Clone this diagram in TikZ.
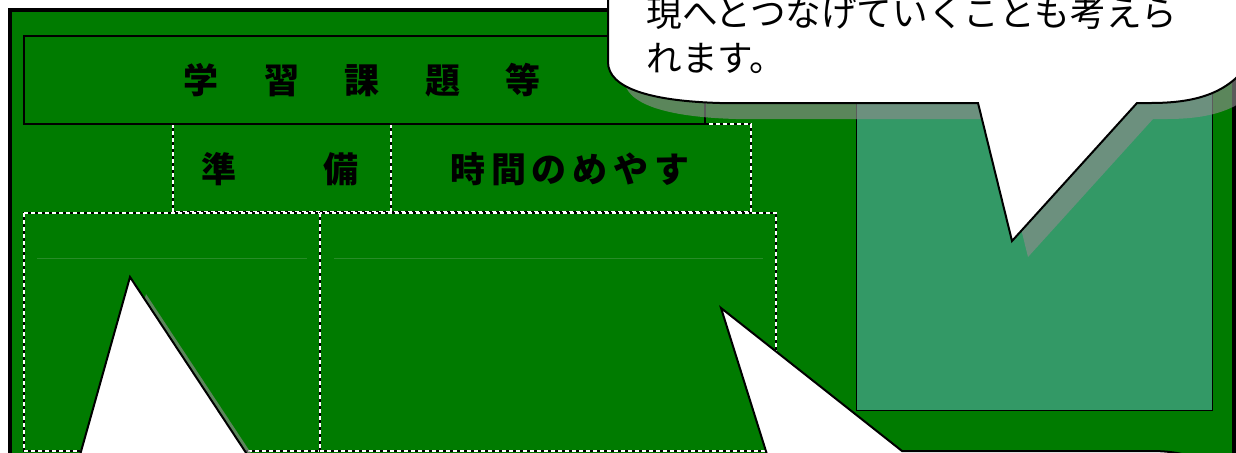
\documentclass[tikz,border=0pt]{standalone}
\usepackage{fontspec}
\setmainfont{Noto Sans CJK JP}
\definecolor{board}{RGB}{0,123,0}
\definecolor{boxgreen}{RGB}{51,153,102}
\definecolor{faint}{RGB}{40,140,40}
\definecolor{shade}{RGB}{140,140,140}

\newcommand{\bubbleTop}{(608,-40) -- (608,62) .. controls (608,88) and (650,101) .. (720,103) -- (978,103) -- (1012,241) -- (1137,103) -- (1150,103) .. controls (1195,103) and (1228,94) .. (1250,62) -- (1250,-40) -- cycle}
\newcommand{\bubbleLeft}{(73,480) -- (130,277) -- (264,480) -- cycle}
\newcommand{\bubbleRight}{(775,480) -- (721,308) -- (902,451) -- (1150,451) .. controls (1185,451) and (1205,458) .. (1215,480) -- cycle}

\tikzset{
  dashbox/.style={draw=white, line width=0.7pt, dash pattern=on 2pt off 1.5pt,
    preaction={draw=black, solid, line width=1.1pt}},
  heading/.style={inner sep=0pt, font=\fontsize{17.5}{21}\selectfont\bfseries},
  bubble/.style={fill=white, draw=black, line width=1pt},
  shadow/.style={fill=shade, fill opacity=0.65},
  bubbletext/.style={inner sep=0pt, anchor=north west, align=left,
    font=\fontsize{17.8}{22.5}\selectfont}
}

\begin{document}
\begin{tikzpicture}[x=0.5pt, y=-0.5pt]
    \useasboundingbox (0,0) rectangle (1236,452);
    \clip (0,0) rectangle (1236,452);
    \pgfmathsetmacro{\sh}{16}

    % board
    \draw[line width=2.25pt, fill=board] (10,10) rectangle (1234,480);

    % table cells
    \draw[dashbox] (173,124) rectangle (391,212);
    \draw[dashbox] (391,124) rectangle (751,212);
    \draw[dashbox] (24,213) rectangle (320,451);
    \draw[dashbox] (320,213) rectangle (776,451);
    \draw[faint, line width=0.5pt] (37,258) -- (307,258);
    \draw[faint, line width=0.5pt] (334,258) -- (763,258);
    \draw[black, line width=0.6pt] (24,36) rectangle (705,124);
    \draw[black, line width=1pt] (173,124) -- (705,124);

    \node[heading] (kadai) at (362,80) {学\hspace{1.3em}習\hspace{1.3em}課\hspace{1.3em}題\hspace{1.3em}等};
    \node[heading] (junbi) at (280,169) {準\hspace{2.5em}備};
    \node[heading] (jikan) at (570,169) {時\kern.17em 間\kern.17em の\kern.17em め\kern.17em や\kern.17em す};

    % picture area
    \draw[fill=boxgreen, line width=0.5pt] (856,50) rectangle (1212,410);

    % callouts
    \fill[shadow, shift={(\sh,17)}] \bubbleLeft;
    \filldraw[bubble] \bubbleLeft;
    \fill[shadow, shift={(\sh,\sh)}] \bubbleRight;
    \filldraw[bubble] \bubbleRight;
    \fill[shadow, shift={(\sh,\sh)}] \bubbleTop;
    \filldraw[bubble] \bubbleTop;

    \node[bubbletext] (memo) at (646,-4) {現へとつなげていくことも考えら\\れます。};
\end{tikzpicture}
\end{document}
